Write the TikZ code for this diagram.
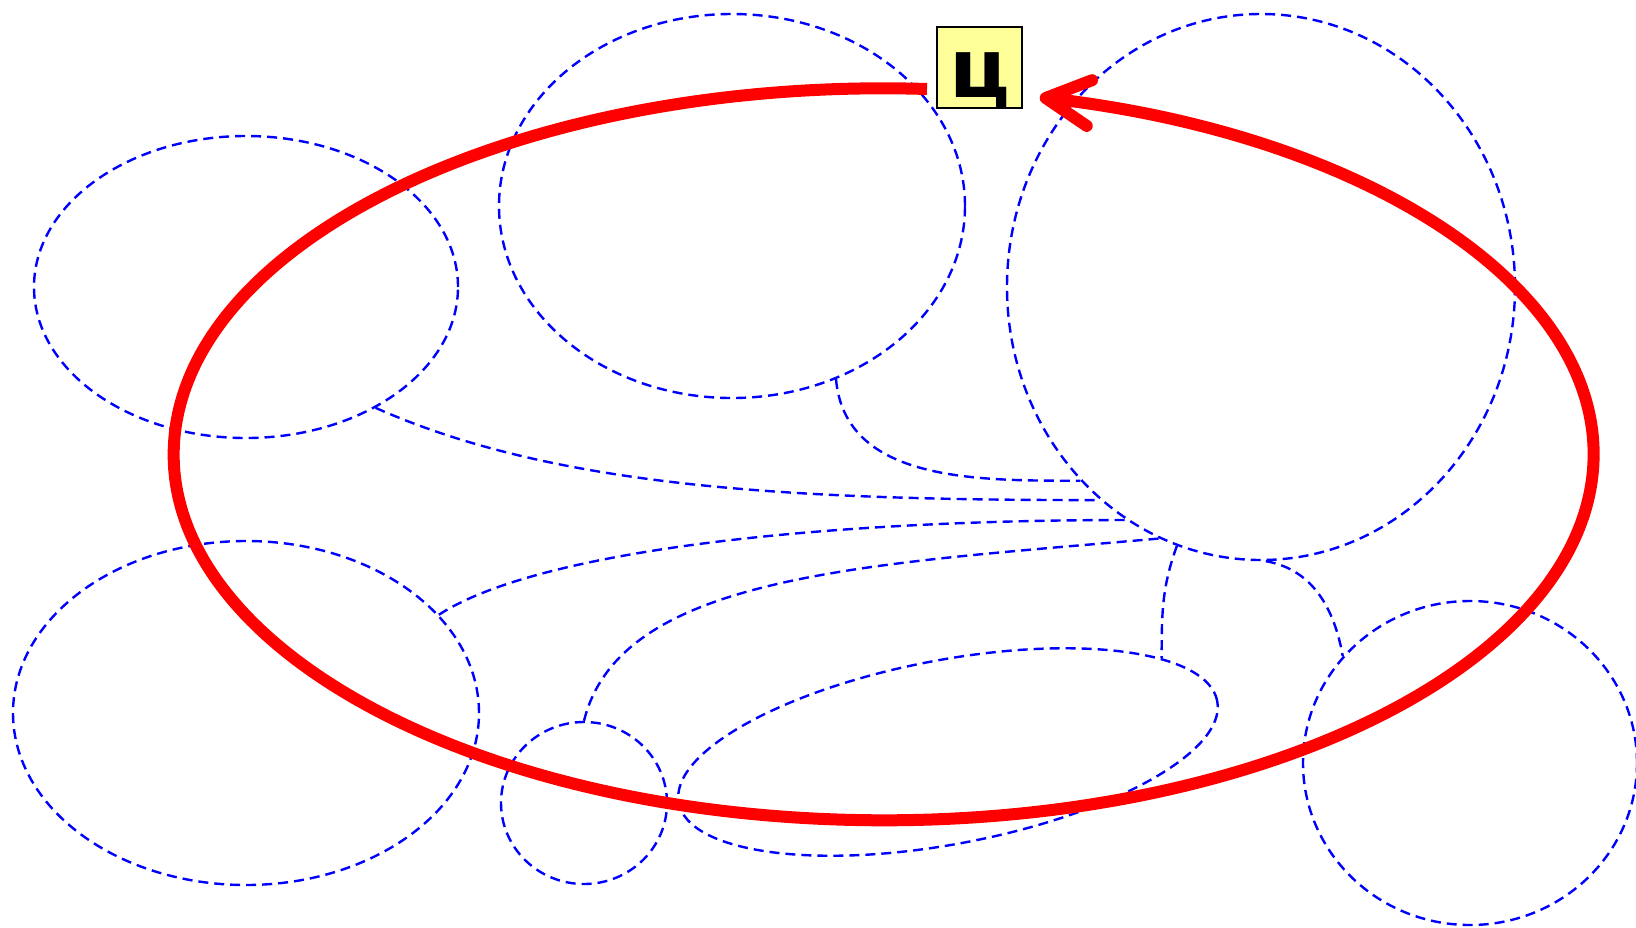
\documentclass[tikz,border=0pt]{standalone}
\usepackage{fontspec}
\newfontfamily\tsefont{DejaVu Sans}
\usetikzlibrary{shapes.geometric,arrows.meta}
\definecolor{paleyellow}{RGB}{255,255,153}
\begin{document}
\begin{tikzpicture}[x=1pt,y=-1pt,
    blob/.style={ellipse,draw=blue,line width=2.4pt,dash pattern=on 10pt off 6pt,inner sep=0pt},
    link/.style={draw=blue,line width=2.4pt,dash pattern=on 10pt off 6pt},
    tag/.style={draw=black,line width=2pt,fill=paleyellow,inner sep=0pt,
        minimum width=85pt,minimum height=81pt,text height=60pt,text depth=0pt,
        font={\fontsize{82}{82}\tsefont\bfseries}}]
    \useasboundingbox (0,0) rectangle (1636,927);

    \node[blob,minimum width=424pt,minimum height=302pt] (ul) at (246,287) {};
    \node[blob,minimum width=466pt,minimum height=384pt] (um) at (732,206) {};
    \node[blob,minimum width=508pt,minimum height=546pt] (ur) at (1261,287) {};
    \node[blob,minimum width=466pt,minimum height=344pt] (ll) at (246,713) {};
    \node[blob,minimum width=166pt,minimum height=162pt] (lc) at (584,803) {};
    \node[blob,minimum width=548pt,minimum height=184pt,rotate=10.7] (lm) at (948,752) {};
    \node[blob,minimum width=334pt,minimum height=324pt] (lr) at (1470,763) {};

    \draw[link] (ul.317) to[out=-24,in=180,out distance=200,in distance=300] (ur.233.5);
    \draw[link] (um.301.6) to[out=-85,in=180] (ur.227.6);
    \draw[link] (ll.27) to[out=33,in=180,out distance=120,in distance=300] (ur.240.5);
    \draw[link] (lc.90) to[out=76,in=185,out distance=150,in distance=300] (ur.248.7);
    \draw[link] (ur.252.6) to[out=-110,in=90] (lm.13.7);
    \draw[link] (ur.271.9) to[out=-10,in=100] (lr.140);

    \node[tag] (lbl) at (979.5,67.5) {ц};
    \draw[red,line width=12pt,-{Straight Barb[round,length=44pt,width=46pt]}]
        (927,89) arc[start angle=-86.5,end angle=-437.3,x radius=710,y radius=366];
\end{tikzpicture}
\end{document}
